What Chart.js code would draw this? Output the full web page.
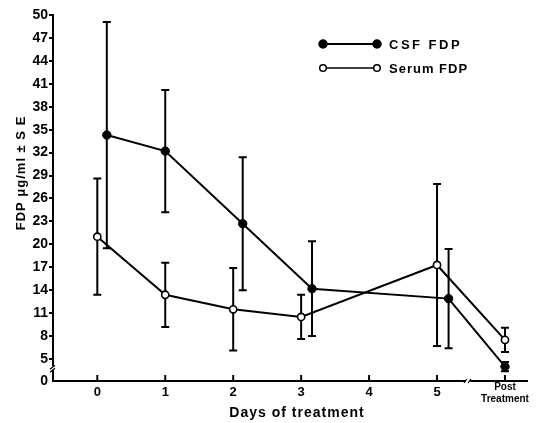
<!DOCTYPE html>
<html>
<head>
<meta charset="utf-8">
<script src="https://cdn.jsdelivr.net/npm/chart.js@4"></script>
<style>
  body { margin:0; background:#fff; }
  #wrap { width:536px; height:423px; position:relative; }
</style>
</head>
<body>
<div id="wrap"><canvas id="fdpChart"></canvas></div>
<script>
// values
const dayTicks = [0, 1, 2, 3, 4, 5, 6];
const dayLabels = ["0", "1", "2", "3", "4", "5", ["Post", "Treatment"]];

const csfDays = [0.14, 1, 2.14, 3.16, 5.17, 6];
const csfMean = [34.3, 32.2, 22.7, 14.2, 12.9, 4.0];
const csfSE = [14.8, 8.0, 8.7, 6.2, 6.5, 0.6];

const serumDays = [0, 1, 2, 3, 5, 6];
const serumMean = [21.0, 13.4, 11.5, 10.5, 17.3, 7.5];
const serumSE = [7.6, 4.2, 5.4, 2.9, 10.6, 1.6];

const yTicks = [5, 8, 11, 14, 17, 20, 23, 26, 29, 32, 35, 38, 41, 44, 47, 50];
const yBottom = 2.12; // broken axis: the bottom is labelled 0
const yTickLabels = ["0"].concat(yTicks.map(String));

const FONT = "'Liberation Sans', Arial, sans-serif";

function pts(xs, ys){
    return xs.map((x, i) => ({x: x, y: ys[i]}));
}

const extras = {
    id: "extras",
    beforeDatasetsDraw(chart){
        const ctx = chart.ctx;
        const xs = chart.scales.x, ys = chart.scales.y;
        ctx.save();
        ctx.strokeStyle = "#000";
        ctx.lineWidth = 2;
        [[csfDays, csfMean, csfSE], [serumDays, serumMean, serumSE]].forEach(s => {
            s[0].forEach((d, i) => {
                const px = xs.getPixelForValue(d);
                const top = ys.getPixelForValue(s[1][i] + s[2][i]);
                const bot = ys.getPixelForValue(s[1][i] - s[2][i]);
                ctx.beginPath();
                ctx.moveTo(px, top); ctx.lineTo(px, bot);
                ctx.moveTo(px - 4, top); ctx.lineTo(px + 4, top);
                ctx.moveTo(px - 4, bot); ctx.lineTo(px + 4, bot);
                ctx.stroke();
            });
        });
        ctx.restore();
    },
    afterDraw(chart){
        const ctx = chart.ctx;
        const xs = chart.scales.x, ys = chart.scales.y;
        const area = chart.chartArea;
        ctx.save();
        ctx.strokeStyle = "#000";
        ctx.fillStyle = "#000";

        // inward tick marks on x axis
        ctx.lineWidth = 2;
        dayTicks.forEach(v => {
            const px = xs.getPixelForValue(v);
            ctx.beginPath();
            ctx.moveTo(px, area.bottom); ctx.lineTo(px, area.bottom - 6);
            ctx.stroke();
        });

        // x axis break
        const bx = xs.getPixelForValue(5.455);
        ctx.fillStyle = "#fff";
        ctx.fillRect(bx - 2, area.bottom - 3, 4, 6);
        ctx.lineWidth = 1.2;
        ctx.beginPath();
        ctx.moveTo(bx - 4, area.bottom + 2); ctx.lineTo(bx - 1, area.bottom - 2);
        ctx.moveTo(bx + 0, area.bottom + 2); ctx.lineTo(bx + 3, area.bottom - 2);
        ctx.stroke();

        // y axis break
        const by = ys.getPixelForValue(3.8);
        ctx.fillRect(area.left - 3, by - 2, 6, 4);
        ctx.beginPath();
        ctx.moveTo(area.left - 3, by + 1); ctx.lineTo(area.left + 2, by - 3);
        ctx.moveTo(area.left - 3, by + 4); ctx.lineTo(area.left + 2, by);
        ctx.stroke();

        // titles
        ctx.fillStyle = "#000";
        ctx.textAlign = "center";
        ctx.textBaseline = "middle";
        ctx.letterSpacing = "1px";
        ctx.font = "bold 14px " + FONT;
        ctx.fillText("Days of treatment", 297, 413);
        ctx.save();
        ctx.translate(21, 173);
        ctx.rotate(-Math.PI / 2);
        ctx.font = "bold 13px " + FONT;
        ctx.fillText("FDP μg/ml ± S E", 0, 0);
        ctx.restore();

        // legend
        ctx.lineWidth = 2;
        [[44, true, "CSF FDP", "2.5px"], [68, false, "Serum FDP", "1px"]].forEach(r => {
            ctx.beginPath();
            ctx.moveTo(323, r[0]); ctx.lineTo(377, r[0]);
            ctx.stroke();
            [323, 377].forEach(cx => {
                ctx.beginPath();
                ctx.arc(cx, r[0], r[1] ? 4 : 3.3, 0, Math.PI * 2);
                ctx.fillStyle = r[1] ? "#000" : "#fff";
                ctx.fill();
                ctx.lineWidth = 1.5;
                ctx.stroke();
            });
            ctx.fillStyle = "#000";
            ctx.textAlign = "left";
            ctx.letterSpacing = r[3];
            ctx.font = "bold 13px " + FONT;
            ctx.fillText(r[2], 389, r[0] + 1);
        });
        ctx.restore();
    }
};

new Chart(
    document.getElementById("fdpChart"),
    {
        type: "scatter",
        data: {
            datasets: [
                {
                    label: "CSF FDP",
                    data: pts(csfDays, csfMean),
                    showLine: true,
                    borderColor: "#000",
                    borderWidth: 2,
                    pointRadius: 4.2,
                    pointBackgroundColor: "#000",
                    pointBorderColor: "#000",
                    pointBorderWidth: 1
                },
                {
                    label: "Serum FDP",
                    data: pts(serumDays, serumMean),
                    showLine: true,
                    borderColor: "#000",
                    borderWidth: 2,
                    pointRadius: 3.6,
                    pointBackgroundColor: "#fff",
                    pointBorderColor: "#000",
                    pointBorderWidth: 1.6
                }
            ]
        },
        options: {
            responsive: true,
            maintainAspectRatio: false,
            animation: false,
            layout: { padding: { top: 15, right: 9, left: 0, bottom: 0 } },
            plugins: {
                legend: { display: false },
                tooltip: { enabled: false }
            },
            scales: {
                x: {
                    type: "linear",
                    min: -0.652,
                    max: 6.324,
                    afterBuildTicks: s => { s.ticks = dayTicks.map(v => ({value: v})); },
                    afterFit: s => { s.height = 42; },
                    grid: { display: false, drawTicks: false },
                    border: { display: true, color: "#000", width: 2 },
                    ticks: {
                        autoSkip: false,
                        maxRotation: 0,
                        padding: 0,
                        color: "#000",
                        callback: (v, i) => dayLabels[i],
                        font: c => c.index === 6
                            ? { family: FONT, size: 10, weight: "bold", lineHeight: 1.2 }
                            : { family: FONT, size: 13, weight: "bold", lineHeight: 22 / 13 }
                    }
                },
                y: {
                    type: "linear",
                    min: yBottom,
                    max: 50,
                    afterBuildTicks: s => {
                        s.ticks = [{value: yBottom}].concat(yTicks.map(v => ({value: v})));
                    },
                    afterFit: s => { s.width = 53; },
                    grid: {
                        drawOnChartArea: false,
                        drawTicks: true,
                        tickLength: 4,
                        lineWidth: 2,
                        color: c => c.index === 0 ? "rgba(0,0,0,0)" : "#000"
                    },
                    border: { display: true, color: "#000", width: 2 },
                    ticks: {
                        padding: 1,
                        color: "#000",
                        font: { family: FONT, size: 14, weight: "bold" },
                        callback: (v, i) => yTickLabels[i]
                    }
                }
            }
        },
        plugins: [extras]
    }
);
</script>
</body>
</html>
